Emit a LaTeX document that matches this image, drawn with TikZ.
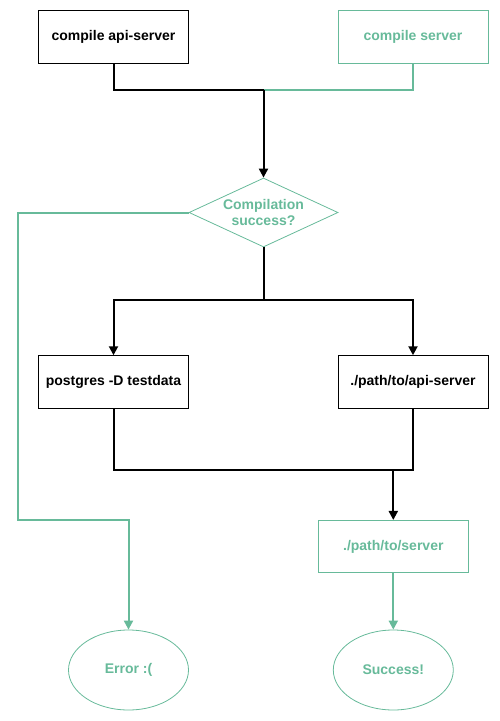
\documentclass[tikz,border=0pt]{standalone}
\usepackage{fontspec}
\setmainfont{Liberation Sans}
\usetikzlibrary{shapes.geometric,arrows.meta}
\definecolor{mint}{RGB}{103,186,154}
\begin{document}
\begin{tikzpicture}[x=1pt,y=-1pt,
  font=\fontsize{14}{16}\selectfont\bfseries,
  box/.style={draw, line width=1pt, minimum width=150pt, minimum height=52.5pt, inner sep=0pt},
  gbox/.style={box, draw=mint, text=mint},
  oval/.style={ellipse, draw=mint, text=mint, line width=0.8pt, minimum width=120pt, minimum height=80pt, inner sep=0pt},
  dec/.style={diamond, draw=mint, text=mint, line width=0.8pt, minimum width=149pt, minimum height=69pt, inner sep=0pt, aspect=2.16, align=center},
  bl/.style={line width=2pt, black},
  gl/.style={line width=2pt, mint},
  tip/.style={-{Triangle[length=9pt,width=9pt]}}
]
\useasboundingbox (0,0) rectangle (499,721);
\node[box] (cas) at (113.5,37) {compile api-server};
\node[gbox] (cs) at (413,37) {compile server};
\node[dec] (dc) at (263.5,212.5) {Compilation\\success?};
\node[box] (pg) at (113.5,382) {postgres -D testdata};
\node[box] (ras) at (413,382) {./path/to/api-server};
\node[gbox] (rs) at (393.3,546.7) {./path/to/server};
\node[oval] (err) at (128.5,670) {Error :(};
\node[oval] (ok) at (393.3,670) {Success!};
\coordinate (j1) at (263.5,90);
\coordinate (j2) at (263.5,300);
\coordinate (j3) at (393.3,470);
% top merge
\draw[gl] (cs.south) |- (j1);
\draw[bl] (cas.south) |- (j1);
\draw[bl,tip] (j1) -- (dc.north);
% failure
\draw[gl,tip] (dc.west) -| (18,520) -| (err.north);
% success split
\draw[bl] (dc.south) -- (j2);
\draw[bl,tip] (j2) -| (pg.north);
\draw[bl,tip] (j2) -| (ras.north);
% join
\draw[bl] (pg.south) |- (j3) -| (ras.south);
\draw[bl,tip] (j3) -- (rs.north);
\draw[gl,tip] (rs.south) -- (ok.north);
\end{tikzpicture}
\end{document}
